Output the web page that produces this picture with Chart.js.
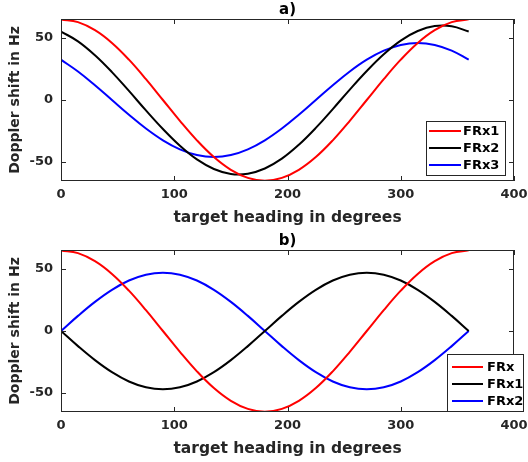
<!DOCTYPE html>
<html>
<head>
<meta charset="utf-8">
<script src="https://cdn.jsdelivr.net/npm/chart.js@4.4.0/dist/chart.umd.min.js"></script>
<style>
html,body{margin:0;padding:0;background:#fff;}
#wrap{position:relative;width:528px;height:462px;}
canvas{position:absolute;left:0;}
</style>
</head>
<body>
<div id="wrap">
<canvas id="c1" width="528" height="231" style="top:0"></canvas>
<canvas id="c2" width="528" height="231" style="top:231px"></canvas>
</div>
<script>
// ---- data ----
const headings = [0,15,30,45,60,75,90,105,120,135,150,165,180,195,210,225,240,255,270,285,300,315,330,345,360];
const topFRx1 = [65,62.8,56.3,46,32.5,16.8,0,-16.8,-32.5,-46,-56.3,-62.8,-65,-62.8,-56.3,-46,-32.5,-16.8,0,16.8,32.5,46,56.3,62.8,65];
const topFRx2 = [55.2,47.3,36.1,22.5,7.3,-8.4,-23.4,-36.9,-47.9,-55.6,-59.6,-59.4,-55.2,-47.3,-36.1,-22.5,-7.3,8.4,23.4,36.9,47.9,55.6,59.6,59.4,55.2];
const topFRx3 = [32.5,23,11.9,0,-11.9,-23,-32.5,-39.8,-44.4,-46,-44.4,-39.8,-32.5,-23,-11.9,0,11.9,23,32.5,39.8,44.4,46,44.4,39.8,32.5];
const botFRx  = [65,62.8,56.3,46,32.5,16.8,0,-16.8,-32.5,-46,-56.3,-62.8,-65,-62.8,-56.3,-46,-32.5,-16.8,0,16.8,32.5,46,56.3,62.8,65];
const botFRx1 = [0,-12.2,-23.5,-33.2,-40.7,-45.4,-47,-45.4,-40.7,-33.2,-23.5,-12.2,0,12.2,23.5,33.2,40.7,45.4,47,45.4,40.7,33.2,23.5,12.2,0];
const botFRx2 = [0,12.2,23.5,33.2,40.7,45.4,47,45.4,40.7,33.2,23.5,12.2,0,-12.2,-23.5,-33.2,-40.7,-45.4,-47,-45.4,-40.7,-33.2,-23.5,-12.2,0];
const xTicks = [0,100,200,300,400];
const yTicks = [-50,0,50];
const topLabels = ['FRx1','FRx2','FRx3'];
const botLabels = ['FRx','FRx1','FRx2'];
const colors = ['#ff0000','#000000','#0000ff'];

const FONT = 'DejaVu Sans';
const TXT = '#262626';

function pts(vals){ return headings.map((h,i)=>({x:h,y:vals[i]})); }

function framePlugin(title, labels, legendBox){
  return {
    id:'frame',
    afterDatasetsDraw(chart){
      const ctx = chart.ctx, a = chart.chartArea;
      const xs = chart.scales.x, ys = chart.scales.y;
      ctx.save();
      ctx.strokeStyle = TXT; ctx.lineWidth = 1;
      ctx.strokeRect(Math.round(a.left)+0.5, Math.round(a.top)+0.5, Math.round(a.right-a.left)-1, Math.round(a.bottom-a.top)-1);
      const L = 5;
      ctx.beginPath();
      xTicks.forEach(v=>{
        const px = Math.round(xs.getPixelForValue(v))+0.5;
        ctx.moveTo(px, a.bottom); ctx.lineTo(px, a.bottom-L);
        ctx.moveTo(px, a.top); ctx.lineTo(px, a.top+L);
      });
      yTicks.forEach(v=>{
        const py = Math.round(ys.getPixelForValue(v))+0.5;
        ctx.moveTo(a.left, py); ctx.lineTo(a.left+L, py);
        ctx.moveTo(a.right, py); ctx.lineTo(a.right-L, py);
      });
      ctx.stroke();
      // title
      ctx.fillStyle = '#000';
      ctx.font = 'bold 15px ' + FONT;
      ctx.textAlign = 'center'; ctx.textBaseline = 'middle';
      ctx.fillText(title, (a.left+a.right)/2, 10);
      // legend
      const b = legendBox;
      ctx.fillStyle = '#fff';
      ctx.fillRect(b.x, b.y, b.w, b.h);
      ctx.strokeStyle = TXT; ctx.lineWidth = 1;
      ctx.strokeRect(b.x+0.5, b.y+0.5, b.w-1, b.h-1);
      ctx.font = 'bold 13px ' + FONT;
      ctx.textAlign = 'left';
      labels.forEach((lab,i)=>{
        const y = b.rows[i];
        ctx.strokeStyle = colors[i]; ctx.lineWidth = 2;
        ctx.beginPath(); ctx.moveTo(b.lx0, y); ctx.lineTo(b.lx1, y); ctx.stroke();
        ctx.fillStyle = '#000';
        ctx.fillText(lab, b.tx, y+1);
      });
      ctx.restore();
    }
  };
}

function makeChart(id, series, labels, title, legendBox){
  return new Chart(document.getElementById(id), {
    type:'line',
    data:{
      datasets: series.map((s,i)=>({
        label: labels[i], data: pts(s), borderColor: colors[i], borderWidth: 2,
        pointRadius: 0, fill:false, tension:0.4
      }))
    },
    options:{
      responsive:false, animation:false, devicePixelRatio:1,
      layout:{padding:{left:0,right:14,top:19,bottom:0}},
      plugins:{legend:{display:false}, tooltip:{enabled:false}, title:{display:false}},
      scales:{
        x:{
          type:'linear', min:0, max:400,
          afterBuildTicks(s){ s.ticks = xTicks.map(v=>({value:v})); },
          afterFit(s){ s.height = 50; s.paddingLeft = 0; s.paddingRight = 0; },
          grid:{display:false, drawTicks:false}, border:{display:false},
          ticks:{color:TXT, font:{family:FONT, size:13, weight:'bold'}, padding:6, maxRotation:0},
          title:{display:true, text:'target heading in degrees', color:TXT,
                 font:{family:FONT, size:15.5, weight:'bold'}, padding:{top:0,bottom:4}}
        },
        y:{
          type:'linear', min:-65.3, max:65.3,
          afterBuildTicks(s){ s.ticks = yTicks.map(v=>({value:v})); },
          afterFit(s){ s.width = 61; s.paddingTop = 0; s.paddingBottom = 0; },
          grid:{display:false, drawTicks:false}, border:{display:false},
          ticks:{color:TXT, font:{family:FONT, size:13, weight:'bold'}, padding:8},
          title:{display:true, text:'Doppler shift in Hz', color:TXT,
                 font:{family:FONT, size:14, weight:'bold'}, padding:{top:7,bottom:0}}
        }
      }
    },
    plugins:[framePlugin(title, labels, legendBox)]
  });
}

makeChart('c1', [topFRx1, topFRx2, topFRx3], topLabels, 'a)',
  {x:426, y:121, w:80, h:55, lx0:429, lx1:461, tx:463, rows:[131,148,165]});
makeChart('c2', [botFRx, botFRx1, botFRx2], botLabels, 'b)',
  {x:447, y:123, w:77, h:58, lx0:452, lx1:483, tx:487, rows:[136,153,170]});
</script>
</body>
</html>
